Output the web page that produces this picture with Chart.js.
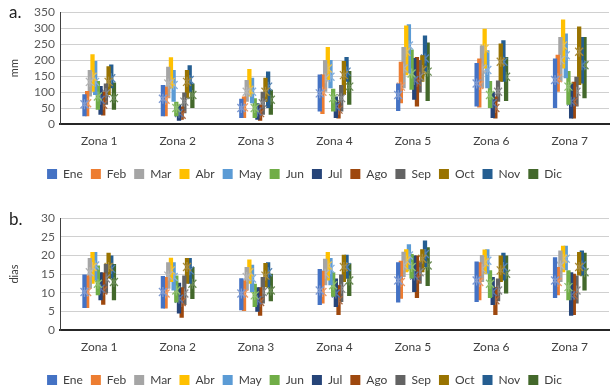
<!DOCTYPE html>
<html>
<head>
<meta charset="utf-8">
<script src="https://cdn.jsdelivr.net/npm/chart.js@4"></script>
<style>
  html, body { margin: 0; padding: 0; background: #fff; overflow: hidden; }
  #wrap { position: relative; width: 613px; height: 387px; font-family: Lato, "Open Sans", sans-serif; }
  .panel { position: absolute; left: 0; width: 613px; height: 190px; }
  .tag { position: absolute; left: 9px; font-size: 17px; color: #222; }
</style>
</head>
<body>
<div id="wrap">
  <div class="panel" style="top:0"><canvas id="chartA" width="613" height="190"></canvas></div>
  <div class="panel" style="top:206px"><canvas id="chartB" width="613" height="190"></canvas></div>
  <div class="tag" style="top:1px">a.</div>
  <div class="tag" style="top:208px">b.</div>
</div>
<script>
(function () {
    'use strict';

    // ─── Data ────────────────────────────────────────────────────────────────
    const zones  = ['Zona 1', 'Zona 2', 'Zona 3', 'Zona 4', 'Zona 5', 'Zona 6', 'Zona 7'];
    const months = ['Ene', 'Feb', 'Mar', 'Abr', 'May', 'Jun', 'Jul', 'Ago', 'Sep', 'Oct', 'Nov', 'Dic'];

    // a. precipitation (mm), one row per zone, Ene..Dic
    const mmMax = [
        [93, 103, 169, 218, 197, 135, 119, 101, 127, 181, 186, 130],
        [122, 117, 179, 209, 169, 70, 60, 55, 99, 169, 184, 127],
        [79, 86, 138, 172, 145, 81, 65, 60, 101, 145, 164, 107],
        [155, 155, 200, 241, 200, 110, 86, 70, 122, 197, 210, 166],
        [127, 195, 241, 308, 312, 233, 207, 210, 200, 215, 277, 255],
        [191, 205, 246, 298, 231, 135, 101, 86, 136, 252, 262, 210],
        [205, 217, 272, 327, 283, 166, 127, 132, 148, 305, 272, 272]
    ];
    const mmMin = [
        [24, 24, 86, 101, 91, 45, 29, 27, 60, 91, 112, 45],
        [24, 24, 81, 112, 70, 24, 10, 13, 34, 81, 101, 50],
        [19, 19, 70, 86, 65, 19, 13, 10, 29, 70, 50, 29],
        [39, 31, 101, 138, 112, 39, 19, 17, 39, 91, 132, 60],
        [41, 65, 112, 153, 158, 107, 76, 55, 99, 132, 164, 72],
        [55, 52, 112, 174, 112, 50, 19, 17, 70, 132, 132, 72],
        [50, 101, 132, 174, 143, 60, 17, 17, 55, 122, 127, 81]
    ];
    const mmMean = [
        [62, 65, 132, 148, 132, 86, 76, 60, 96, 132, 143, 81],
        [79, 76, 127, 132, 122, 50, 34, 29, 70, 132, 138, 91],
        [50, 52, 101, 107, 101, 50, 39, 34, 65, 101, 117, 76],
        [96, 101, 143, 174, 148, 81, 55, 45, 81, 153, 164, 117],
        [91, 117, 174, 226, 246, 158, 138, 132, 148, 169, 205, 164],
        [127, 122, 174, 236, 169, 91, 65, 50, 101, 195, 195, 148],
        [138, 143, 200, 246, 215, 117, 70, 70, 101, 226, 184, 184]
    ];

    // b. rainy days, one row per zone, Ene..Dic
    const dMax = [
        [14.9, 14.6, 19.3, 20.9, 20.9, 17.3, 15.5, 15.4, 17.7, 20.7, 20.0, 17.7],
        [14.5, 14.2, 18.2, 19.4, 18.2, 14.6, 12.7, 11.5, 14.6, 19.3, 19.3, 16.9],
        [13.9, 13.3, 16.9, 18.9, 17.5, 12.4, 11.5, 11.5, 14.2, 18.0, 18.2, 15.1],
        [16.4, 15.8, 19.1, 20.9, 19.3, 15.5, 13.8, 12.0, 14.9, 20.2, 20.2, 17.9],
        [18.2, 18.6, 21.0, 21.7, 23.0, 20.4, 20.0, 20.0, 18.2, 21.7, 24.0, 22.2],
        [18.4, 18.2, 20.1, 21.6, 21.7, 16.0, 14.2, 11.5, 13.8, 20.0, 20.7, 20.0],
        [19.5, 16.9, 21.3, 22.6, 22.6, 16.0, 15.5, 15.1, 14.6, 20.9, 21.3, 20.7]
    ];
    const dMin = [
        [5.9, 5.9, 11.1, 12.4, 13.3, 9.3, 8.0, 6.8, 9.8, 13.8, 13.8, 8.0],
        [5.8, 5.8, 11.1, 12.9, 10.6, 7.4, 4.4, 3.3, 6.7, 12.4, 12.4, 8.3],
        [5.3, 5.1, 10.6, 12.4, 10.2, 6.2, 4.9, 3.8, 7.1, 11.5, 11.5, 7.7],
        [6.7, 7.1, 12.0, 13.3, 12.0, 8.9, 6.2, 4.0, 7.5, 12.9, 13.8, 9.1],
        [7.4, 8.4, 14.2, 15.5, 16.4, 13.8, 10.2, 8.6, 12.4, 15.5, 16.9, 11.8],
        [7.5, 8.0, 12.9, 15.1, 15.1, 8.6, 6.7, 4.0, 7.7, 12.9, 13.3, 9.8],
        [8.6, 9.3, 12.9, 15.5, 16.0, 8.0, 3.8, 4.0, 7.1, 14.6, 14.6, 10.6]
    ];
    const dMean = [
        [10.2, 10.2, 15.5, 16.9, 17.3, 12.4, 11.1, 10.6, 13.8, 16.9, 16.4, 12.9],
        [10.2, 9.8, 14.6, 16.0, 14.2, 10.6, 8.4, 7.5, 9.8, 16.9, 16.0, 12.4],
        [9.8, 9.8, 14.2, 15.5, 13.8, 9.3, 8.0, 7.5, 10.2, 14.6, 15.5, 10.6],
        [10.6, 10.2, 15.1, 17.3, 16.4, 12.0, 9.8, 8.0, 11.1, 16.9, 16.9, 13.3],
        [13.3, 12.9, 17.3, 18.6, 20.0, 16.9, 14.6, 13.8, 15.5, 19.1, 20.4, 17.3],
        [13.3, 12.9, 16.4, 18.2, 18.6, 12.4, 10.2, 8.0, 10.6, 16.0, 16.9, 15.1],
        [13.3, 12.9, 17.3, 19.1, 19.1, 11.5, 9.3, 9.3, 10.6, 16.9, 17.3, 15.5]
    ];

    const mmTicks   = { max: 350, step: 50 };
    const diasTicks = { max: 30,  step: 5 };

    const barColors    = ['#4472C4', '#ED7D31', '#A5A5A5', '#FFC000', '#5B9BD5', '#70AD47',
                          '#264478', '#9E480E', '#636363', '#997300', '#255E91', '#43682B'];
    const markerColors = ['#7F9BD2', '#E99A68', '#B5B5B5', '#E8C058', '#86B0DC', '#8FBE72',
                          '#5A76A8', '#A86A45', '#8A8A8A', '#A88C3E', '#5584B4', '#6A8C55'];

    const FONT = 'Lato, "Open Sans", sans-serif';
    const TXT  = '#404040';

    // ─── Mean markers (asterisk) drawn on the bar positions ─────────────────
    const meanMarkers = {
        id: 'meanMarkers',
        afterDatasetDraw(chart, args) {
            const ds   = chart.data.datasets[args.index];
            const meta = args.meta;
            const y    = chart.scales.y;
            const ctx  = chart.ctx;
            const r    = 4;
            ctx.save();
            ctx.strokeStyle = ds.markerColor;
            ctx.lineWidth = 1.3;
            meta.data.forEach((bar, j) => {
                const px = bar.x, py = y.getPixelForValue(ds.means[j]);
                ctx.beginPath();
                ctx.moveTo(px - r, py - r); ctx.lineTo(px + r, py + r);
                ctx.moveTo(px - r, py + r); ctx.lineTo(px + r, py - r);
                ctx.moveTo(px, py - r - 1); ctx.lineTo(px, py + r + 1);
                ctx.stroke();
            });
            ctx.restore();
        }
    };

    function transpose(rows, m) { return rows.map(r => r[m]); }

    function buildChart(id, maxRows, minRows, meanRows, title, ticks) {
        const datasets = months.map((name, m) => ({
            label: name,
            data: zones.map((z, k) => [minRows[k][m], maxRows[k][m]]),
            means: transpose(meanRows, m),
            markerColor: markerColors[m],
            backgroundColor: barColors[m],
            borderWidth: 0,
            categoryPercentage: 0.41,
            barPercentage: 1.6
        }));

        return new Chart(document.getElementById(id), {
            type: 'bar',
            data: { labels: zones, datasets },
            plugins: [meanMarkers],
            options: {
                responsive: false,
                animation: false,
                layout: { padding: { top: 10, right: 4, left: 0, bottom: 0 } },
                plugins: {
                    legend: {
                        position: 'bottom',
                        labels: {
                            boxWidth: 10, boxHeight: 10, padding: 8,
                            color: TXT, font: { family: FONT, size: 12 }
                        }
                    },
                    tooltip: { enabled: false }
                },
                scales: {
                    x: {
                        grid: { display: false, drawTicks: false },
                        border: { display: true, color: '#262626', width: 2 },
                        ticks: { color: TXT, font: { family: FONT, size: 12 }, padding: 10 },
                        afterFit: s => { s.height = 36; }
                    },
                    y: {
                        min: 0, max: ticks.max,
                        grid: { color: '#D0D0D0', drawTicks: false },
                        border: { color: '#404040', width: 1 },
                        ticks: { stepSize: ticks.step, autoSkip: false, color: '#595959', padding: 5,
                                 font: { family: FONT, size: 12 } },
                        title: { display: true, text: title, color: TXT,
                                 font: { family: FONT, size: 11 }, padding: { top: 8, bottom: 0 } },
                        afterFit: s => { s.width = 60; }
                    }
                }
            }
        });
    }

    buildChart('chartA', mmMax, mmMin, mmMean, 'mm', mmTicks);
    buildChart('chartB', dMax, dMin, dMean, 'dias', diasTicks);
})();
</script>
</body>
</html>
